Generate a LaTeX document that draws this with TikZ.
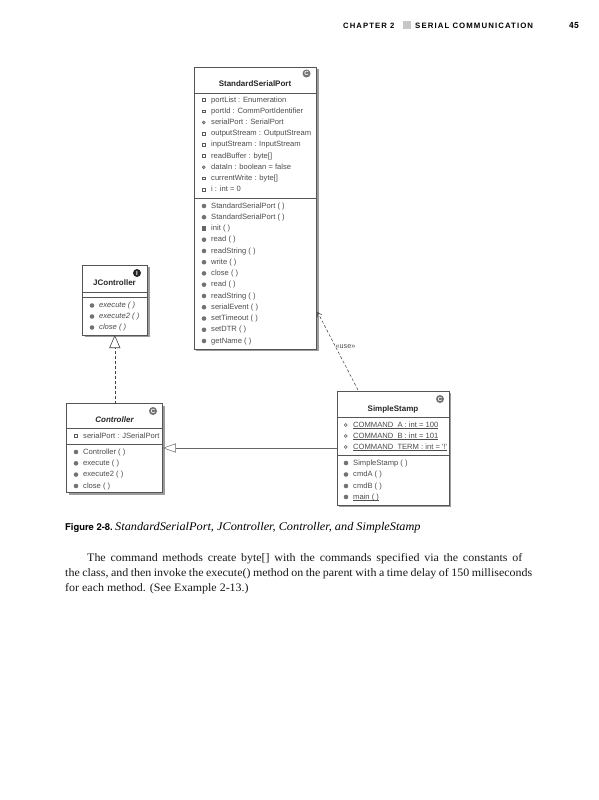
\documentclass[tikz,border=0pt]{standalone}
\usepackage{fontspec}
\setmainfont{Liberation Serif}
\newfontfamily\bodyfont[FakeStretch=1.05]{Liberation Serif}
\newfontfamily\umlfont{Liberation Sans}
\newfontfamily\headfont[LetterSpace=14]{Liberation Sans}
\newfontfamily\capfont{TeX Gyre Heros}
\usepackage{tikz}
\usetikzlibrary{arrows.meta, calc, shadows}
\definecolor{umlgray}{HTML}{555555}

\begin{document}
\begin{tikzpicture}[
    x=1pt, y=-1pt,
    umlbox/.style={rectangle, draw=umlgray, fill=white, line width=0.7pt, inner sep=0pt, outer sep=0pt, drop shadow={shadow xshift=2.2pt, shadow yshift=-2.2pt, fill=black!55, opacity=0.7}},
    boxtitle/.style={inner sep=0pt, font=\umlfont\bfseries\fontsize{8}{9}\selectfont, text=black!85},
    rowtext/.style={anchor=west, inner sep=0pt, font=\umlfont\fontsize{7.6}{9}\selectfont, text=black!70, text height=5.5pt, text depth=1.5pt},
    privmark/.style={rectangle, draw=black!65, fill=white, line width=0.5pt, minimum size=2.6pt, inner sep=0pt},
    pkgmark/.style={circle, draw=black!65, fill=black!30, line width=0.5pt, minimum size=3pt, inner sep=0pt},
    pubmark/.style={circle, fill=black!55, minimum size=4.6pt, inner sep=0pt},
    statmark/.style={circle, draw=black!65, fill=white, line width=0.5pt, minimum size=3pt, inner sep=0pt},
    protmark/.style={rectangle, fill=black!60, minimum size=4.4pt, inner sep=0pt},
    priv/.style={rowtext, label={[privmark, label distance=5.5pt]left:}},
    pkg/.style={rowtext, label={[pkgmark, label distance=5.5pt]left:}},
    stat/.style={rowtext, label={[statmark, label distance=5.5pt]left:}},
    pub/.style={rowtext, label={[pubmark, label distance=4.5pt]left:}},
    prot/.style={rowtext, label={[protmark, label distance=4.5pt]left:}},
    classicon/.style={circle, fill=black!55, text=white, minimum size=8pt, inner sep=0pt, font=\umlfont\bfseries\fontsize{6}{6}\selectfont},
    ifaceicon/.style={circle, fill=black!85, text=white, minimum size=8pt, inner sep=0pt, font=\umlfont\bfseries\fontsize{6}{6}\selectfont},
    sepline/.style={draw=umlgray, line width=0.6pt},
    realize/.style={draw=black!75, densely dashed, line width=0.6pt, -{Triangle[open, length=13pt, width=11pt, fill=white]}},
    inherit/.style={draw=black!60, line width=0.5pt, -{Triangle[open, length=13pt, width=9pt, fill=white]}},
    uses/.style={draw=black!75, densely dashed, line width=0.5pt, -{Straight Barb[length=4pt, width=5pt]}},
    bodyline/.style={anchor=base west, inner sep=0pt, font=\bodyfont\fontsize{11.4}{13}\selectfont, text=black!90}
]
\useasboundingbox (0,0) rectangle (598,800);
\fill[white] (0,0) rectangle (598,800);

% Page header
\node[anchor=base west, inner sep=0pt, font=\headfont\bfseries\fontsize{7.7}{9}\selectfont] (head_a) at (343,28.5) {CHAPTER 2};
\node[rectangle, fill=black!22, minimum size=8pt, inner sep=0pt] (head_sq) at (406.5,25.5) {};
\node[anchor=base west, inner sep=0pt, font=\headfont\bfseries\fontsize{7.8}{9}\selectfont] (head_b) at (415,28.5) {SERIAL COMMUNICATION};
\node[anchor=base east, inner sep=0pt, font=\capfont\bfseries\fontsize{8.6}{10}\selectfont] (head_page) at (579,28.5) {45};

% Class boxes
\node[umlbox, minimum width=122.5pt, minimum height=282pt] (ssp) at (255.25,208) {};
\node[umlbox, minimum width=65pt, minimum height=70pt] (jcontroller) at (114.8,300) {};
\node[umlbox, minimum width=96pt, minimum height=89pt] (controller) at (114.8,448) {};
\node[umlbox, minimum width=112pt, minimum height=114pt] (simplestamp) at (393,448) {};

% Connectors
\draw[realize] (controller.north) -- (jcontroller.south);
\draw[inherit] (simplestamp.west) -- (controller.east);
\coordinate (use_start) at (358,390);
\coordinate (use_end) at (317.5,312);
\draw[uses] (use_start) -- (use_end);
\node[inner sep=0pt, font=\umlfont\fontsize{7.2}{8}\selectfont, text=black!70] (use_label) at (345.5,346.5) {«use»};

% StandardSerialPort
\node[classicon] (ssp_icon) at (306.5,73.5) {C};
\node[boxtitle] (ssp_title) at (255,84) {StandardSerialPort};
\draw[sepline] (ssp.west |- 0,93) -- (ssp.east |- 0,93);
\node[priv] (ssp_a1) at (211,100) {portList : Enumeration};
\node[priv] (ssp_a2) at (211,111.2) {portId : CommPortIdentifier};
\node[pkg] (ssp_a3) at (211,122.4) {serialPort : SerialPort};
\node[priv] (ssp_a4) at (211,133.6) {outputStream : OutputStream};
\node[priv] (ssp_a5) at (211,144.8) {inputStream : InputStream};
\node[priv] (ssp_a6) at (211,156) {readBuffer : byte[]};
\node[pkg] (ssp_a7) at (211,167.2) {dataIn : boolean = false};
\node[priv] (ssp_a8) at (211,178.4) {currentWrite : byte[]};
\node[priv] (ssp_a9) at (211,189.6) {i : int = 0};
\draw[sepline] (ssp.west |- 0,198) -- (ssp.east |- 0,198);
\node[pub] (ssp_m1) at (211,206) {StandardSerialPort ( )};
\node[pub] (ssp_m2) at (211,217.2) {StandardSerialPort ( )};
\node[prot] (ssp_m3) at (211,228.5) {init ( )};
\node[pub] (ssp_m4) at (211,239.7) {read ( )};
\node[pub] (ssp_m5) at (211,251) {readString ( )};
\node[pub] (ssp_m6) at (211,262.2) {write ( )};
\node[pub] (ssp_m7) at (211,273.4) {close ( )};
\node[pub] (ssp_m8) at (211,284.7) {read ( )};
\node[pub] (ssp_m9) at (211,296) {readString ( )};
\node[pub] (ssp_m10) at (211,307.2) {serialEvent ( )};
\node[pub] (ssp_m11) at (211,318.5) {setTimeout ( )};
\node[pub] (ssp_m12) at (211,329.8) {setDTR ( )};
\node[pub] (ssp_m13) at (211,341) {getName ( )};

% JController
\node[ifaceicon] (jc_icon) at (137,273) {I};
\node[boxtitle] (jc_title) at (114.5,283) {JController};
\draw[sepline] (jcontroller.west |- 0,292) -- (jcontroller.east |- 0,292);
\draw[sepline] (jcontroller.west |- 0,297) -- (jcontroller.east |- 0,297);
\node[pub, font=\umlfont\itshape\fontsize{7.6}{9}\selectfont] (jc_m1) at (99,305.5) {execute ( )};
\node[pub, font=\umlfont\itshape\fontsize{7.6}{9}\selectfont] (jc_m2) at (99,316.5) {execute2 ( )};
\node[pub, font=\umlfont\itshape\fontsize{7.6}{9}\selectfont] (jc_m3) at (99,327.5) {close ( )};

% Controller
\node[classicon] (ctl_icon) at (153,411) {C};
\node[boxtitle, font=\umlfont\bfseries\itshape\fontsize{8}{9}\selectfont] (ctl_title) at (114.5,420) {Controller};
\draw[sepline] (controller.west |- 0,428) -- (controller.east |- 0,428);
\node[priv] (ctl_a1) at (83,436) {serialPort : JSerialPort};
\draw[sepline] (controller.west |- 0,444) -- (controller.east |- 0,444);
\node[pub] (ctl_m1) at (83,452) {Controller ( )};
\node[pub] (ctl_m2) at (83,463.3) {execute ( )};
\node[pub] (ctl_m3) at (83,474.6) {execute2 ( )};
\node[pub] (ctl_m4) at (83,486) {close ( )};

% SimpleStamp
\node[classicon] (ss_icon) at (440,399) {C};
\node[boxtitle] (ss_title) at (393,409) {SimpleStamp};
\draw[sepline] (simplestamp.west |- 0,417) -- (simplestamp.east |- 0,417);
\node[stat] (ss_a1) at (353,425) {\underline{\smash{COMMAND\_A : int = 100}}};
\node[stat] (ss_a2) at (353,436) {\underline{\smash{COMMAND\_B : int = 101}}};
\node[stat] (ss_a3) at (353,447) {\underline{\smash{COMMAND\_TERM : int = '!'}}};
\draw[sepline] (simplestamp.west |- 0,455) -- (simplestamp.east |- 0,455);
\node[pub] (ss_m1) at (353,463) {SimpleStamp ( )};
\node[pub] (ss_m2) at (353,474.5) {cmdA ( )};
\node[pub] (ss_m3) at (353,486) {cmdB ( )};
\node[pub] (ss_m4) at (353,497) {\underline{\smash{main ( )}}};

% Caption and body text
\node[anchor=base west, inner sep=0pt, font=\capfont\bfseries\fontsize{9.4}{11}\selectfont] (fig_no) at (65,530) {Figure 2-8.};
\node[anchor=base west, inner sep=0pt, font=\bodyfont\itshape\fontsize{11.7}{13}\selectfont] (fig_cap) at (115,530) {StandardSerialPort, JController, Controller, and SimpleStamp};
\node[bodyline] (body_a) at (87,561.5) {\makebox[435pt][s]{The command methods create byte[] with the commands specified via the constants of}};
\node[bodyline] (body_b) at (65,576.5) {\makebox[467pt][s]{the class, and then invoke the execute() method on the parent with a time delay of 150 milliseconds}};
\node[bodyline] (body_c) at (65,591.5) {for each method. (See Example 2-13.)};

\end{tikzpicture}
\end{document}
